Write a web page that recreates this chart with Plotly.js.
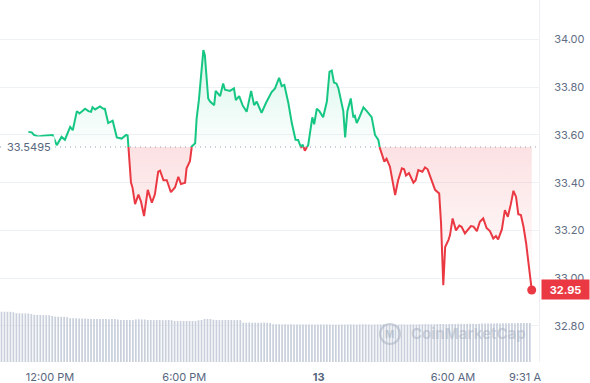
<!DOCTYPE html>
<html>
<head>
<meta charset="utf-8">
<script src="https://cdn.plot.ly/plotly-3.0.1.min.js"></script>
<style>
  html, body { margin: 0; padding: 0; background: #fff; }
  #chart { width: 590px; height: 383px; }
</style>
</head>
<body>
<div id="chart"></div>
<script>
// ---- data ----
const basePrice = 33.5495;
const lastPrice = 32.95;

const priceTime = [
  "2024-06-12 11:02","2024-06-12 11:11","2024-06-12 11:17","2024-06-12 11:28","2024-06-12 11:44",
  "2024-06-12 12:07","2024-06-12 12:18","2024-06-12 12:31","2024-06-12 12:40","2024-06-12 12:54",
  "2024-06-12 13:01","2024-06-12 13:12","2024-06-12 13:19","2024-06-12 13:34","2024-06-12 13:43",
  "2024-06-12 13:50","2024-06-12 13:54","2024-06-12 14:01","2024-06-12 14:14","2024-06-12 14:23",
  "2024-06-12 14:27","2024-06-12 14:36","2024-06-12 14:48","2024-06-12 14:59","2024-06-12 15:12",
  "2024-06-12 15:24","2024-06-12 15:28","2024-06-12 15:37","2024-06-12 15:41","2024-06-12 15:48",
  "2024-06-12 15:57","2024-06-12 16:04","2024-06-12 16:12","2024-06-12 16:22","2024-06-12 16:33",
  "2024-06-12 16:41","2024-06-12 16:50","2024-06-12 16:55","2024-06-12 17:04","2024-06-12 17:13",
  "2024-06-12 17:24","2024-06-12 17:35","2024-06-12 17:44","2024-06-12 17:51","2024-06-12 18:02",
  "2024-06-12 18:06","2024-06-12 18:15","2024-06-12 18:20","2024-06-12 18:29","2024-06-12 18:33",
  "2024-06-12 18:39","2024-06-12 18:51","2024-06-12 18:55","2024-06-12 19:04","2024-06-12 19:09",
  "2024-06-12 19:20","2024-06-12 19:24","2024-06-12 19:36","2024-06-12 19:44","2024-06-12 19:49",
  "2024-06-12 20:02","2024-06-12 20:13","2024-06-12 20:18","2024-06-12 20:27","2024-06-12 20:36",
  "2024-06-12 20:47","2024-06-12 20:59","2024-06-12 21:07","2024-06-12 21:14","2024-06-12 21:27",
  "2024-06-12 21:39","2024-06-12 21:54","2024-06-12 22:03","2024-06-12 22:14","2024-06-12 22:21",
  "2024-06-12 22:28","2024-06-12 22:39","2024-06-12 22:48","2024-06-12 22:58","2024-06-12 23:05",
  "2024-06-12 23:13","2024-06-12 23:17","2024-06-12 23:23","2024-06-12 23:32","2024-06-12 23:43",
  "2024-06-12 23:48","2024-06-12 23:55","2024-06-13 00:02","2024-06-13 00:12","2024-06-13 00:22",
  "2024-06-13 00:29","2024-06-13 00:35","2024-06-13 00:41","2024-06-13 00:48","2024-06-13 00:53",
  "2024-06-13 01:06","2024-06-13 01:11","2024-06-13 01:17","2024-06-13 01:26","2024-06-13 01:33",
  "2024-06-13 01:37","2024-06-13 01:42","2024-06-13 01:48","2024-06-13 02:00","2024-06-13 02:09",
  "2024-06-13 02:18","2024-06-13 02:22","2024-06-13 02:31","2024-06-13 02:40","2024-06-13 02:44",
  "2024-06-13 02:56","2024-06-13 03:02","2024-06-13 03:11","2024-06-13 03:20","2024-06-13 03:25",
  "2024-06-13 03:33","2024-06-13 03:43","2024-06-13 03:49","2024-06-13 03:54","2024-06-13 04:02",
  "2024-06-13 04:14","2024-06-13 04:20","2024-06-13 04:27","2024-06-13 04:38","2024-06-13 04:45",
  "2024-06-13 04:52","2024-06-13 05:03","2024-06-13 05:12","2024-06-13 05:23","2024-06-13 05:28",
  "2024-06-13 05:34","2024-06-13 05:39","2024-06-13 05:48","2024-06-13 05:52","2024-06-13 05:59",
  "2024-06-13 06:08","2024-06-13 06:17","2024-06-13 06:23","2024-06-13 06:32","2024-06-13 06:41",
  "2024-06-13 06:48","2024-06-13 06:55","2024-06-13 07:04","2024-06-13 07:12","2024-06-13 07:21",
  "2024-06-13 07:30","2024-06-13 07:39","2024-06-13 07:48","2024-06-13 07:55","2024-06-13 08:01",
  "2024-06-13 08:11","2024-06-13 08:19","2024-06-13 08:27","2024-06-13 08:35","2024-06-13 08:42",
  "2024-06-13 08:49","2024-06-13 08:55","2024-06-13 09:02","2024-06-13 09:09","2024-06-13 09:16",
  "2024-06-13 09:23","2024-06-13 09:31"
];

const priceValue = [
  33.613,33.611,33.600,33.594,33.597,
  33.600,33.557,33.592,33.580,33.634,
  33.620,33.700,33.690,33.710,33.700,
  33.697,33.716,33.707,33.720,33.710,
  33.710,33.650,33.660,33.590,33.585,
  33.600,33.598,33.400,33.380,33.310,
  33.350,33.320,33.260,33.370,33.316,
  33.350,33.446,33.450,33.410,33.410,
  33.360,33.380,33.425,33.394,33.400,
  33.460,33.490,33.552,33.565,33.670,
  33.746,33.956,33.935,33.753,33.740,
  33.725,33.785,33.763,33.816,33.790,
  33.785,33.795,33.746,33.763,33.725,
  33.697,33.785,33.725,33.740,33.693,
  33.735,33.780,33.795,33.840,33.805,
  33.810,33.732,33.650,33.580,33.579,
  33.546,33.560,33.534,33.558,33.674,
  33.645,33.710,33.700,33.674,33.740,
  33.865,33.870,33.820,33.815,33.795,
  33.700,33.590,33.700,33.753,33.674,
  33.680,33.650,33.670,33.716,33.700,
  33.680,33.675,33.600,33.579,33.545,
  33.488,33.500,33.467,33.400,33.348,
  33.410,33.460,33.456,33.430,33.440,
  33.400,33.410,33.453,33.446,33.464,
  33.456,33.410,33.370,33.355,33.230,
  32.970,33.130,33.160,33.180,33.250,
  33.200,33.220,33.215,33.187,33.204,
  33.218,33.216,33.197,33.236,33.250,
  33.210,33.197,33.166,33.176,33.162,
  33.204,33.285,33.257,33.310,33.366,
  33.340,33.268,33.264,33.215,33.146,
  33.047,32.950
];

// volume bars (relative units), one bar per 8 minutes from 09:50 on the 12th
const volumeStart = "2024-06-12 09:50";
const volumeStepMinutes = 8;
const volumeValue = [
  5.03,5.03,5.02,5.02,4.98,
  4.88,4.87,4.87,4.86,4.85,4.80,
  4.72,4.70,4.70,4.69,4.68,4.68,4.60,
  4.54,4.53,4.52,4.52,4.48,
  4.38,4.37,4.37,4.36,4.36,4.34,4.32,
  4.30,4.31,4.30,4.29,4.30,4.30,4.28,4.30,4.29,4.25,
  4.20,4.20,4.21,4.20,4.19,4.26,4.27,4.26,4.25,4.20,
  4.20,4.19,4.20,4.20,4.18,4.19,4.20,4.18,4.10,
  4.10,4.09,4.10,4.11,4.10,4.10,4.09,4.18,
  4.20,4.30,4.31,4.30,4.22,
  4.20,4.19,4.20,4.20,4.21,4.20,4.19,4.20,4.18,
  3.94,3.93,3.94,3.93,3.93,3.92,3.93,3.94,3.93,3.90,
  3.78,3.77,3.77,3.76,3.77,3.76,3.77,3.76,3.75,
  3.76,3.75,3.76,3.75,3.74,3.75,3.76,3.75,3.74,3.75,
  3.75,3.74,3.73,3.74,3.75,3.74,3.75,3.76,3.75,3.74,
  3.76,3.77,3.76,3.75,3.74,3.75,3.76,3.77,3.78,3.77,
  3.76,3.75,3.74,3.75,3.76,3.75,3.74,3.75,3.76,3.75,
  3.77,3.78,3.79,3.78,3.77,3.78,3.79,3.80,3.79,3.78,
  3.80,3.81,3.80,3.82,3.81,3.80,3.82,3.83,3.82,3.81,
  3.83,3.84,3.85,3.84,3.86,3.85,3.87,3.86,3.88,3.87,
  3.88,3.89,3.88,3.90,3.89,3.90,3.91,3.90
];

const yTickValues = [32.8, 33.0, 33.2, 33.4, 33.6, 33.8, 34.0];
const yTickLabels = ["32.80", "33.00", "33.20", "33.40", "33.60", "33.80", "34.00"];
const xTickValues = ["2024-06-12 12:00", "2024-06-12 18:00", "2024-06-13 00:00", "2024-06-13 06:00", "2024-06-13 09:13"];
const xTickLabels = ["12:00 PM", "6:00 PM", "<b>13</b>", "6:00 AM", "9:31 A"];

// ---- build ----
const GREEN = "#16c784";
const RED = "#ea3943";
const toMs = s => Date.parse(s.replace(" ", "T") + ":00Z");

const t = priceTime.map(toMs);
const aug = [];
for (let i = 0; i < t.length; i++) {
  aug.push([t[i], priceValue[i]]);
  if (i < t.length - 1) {
    const a = priceValue[i] - basePrice, b = priceValue[i + 1] - basePrice;
    if (a * b < 0) {
      const f = a / (a - b);
      aug.push([t[i] + f * (t[i + 1] - t[i]), basePrice]);
    }
  }
}
const ax = aug.map(p => p[0]);
const ay = aug.map(p => p[1]);
const greenY = ay.map(v => v >= basePrice ? v : null);
const redY = ay.map(v => v <= basePrice ? v : null);
const upFill = ay.map(v => Math.max(v, basePrice));
const downFill = ay.map(v => Math.min(v, basePrice));
const baseY = ay.map(() => basePrice);

const v0 = toMs(volumeStart);
const volTime = volumeValue.map((_, i) => v0 + i * volumeStepMinutes * 60000);

const traces = [
  { type: "bar", x: volTime, y: volumeValue, yaxis: "y2",
    marker: { color: "#c9d0dc", line: { width: 0 } }, hoverinfo: "skip" },
  { type: "scatter", mode: "lines", x: ax, y: baseY, line: { width: 0 }, hoverinfo: "skip" },
  { type: "scatter", mode: "lines", x: ax, y: upFill, line: { width: 0 }, fill: "tonexty",
    fillgradient: { type: "vertical", start: basePrice, stop: 34.0,
      colorscale: [[0, "rgba(22,199,132,0.01)"], [1, "rgba(22,199,132,0.19)"]] }, hoverinfo: "skip" },
  { type: "scatter", mode: "lines", x: ax, y: baseY, line: { width: 0 }, hoverinfo: "skip" },
  { type: "scatter", mode: "lines", x: ax, y: downFill, line: { width: 0 }, fill: "tonexty",
    fillgradient: { type: "vertical", start: 32.95, stop: basePrice,
      colorscale: [[0, "rgba(234,57,67,0)"], [1, "rgba(234,57,67,0.15)"]] }, hoverinfo: "skip" },
  { type: "scatter", mode: "lines", x: ax, y: greenY, connectgaps: false,
    line: { color: GREEN, width: 2 }, hoverinfo: "skip" },
  { type: "scatter", mode: "lines", x: ax, y: redY, connectgaps: false,
    line: { color: RED, width: 2 }, hoverinfo: "skip" },
  { type: "scatter", mode: "markers", x: [t[t.length - 1]], y: [lastPrice],
    marker: { color: RED, size: 9 }, hoverinfo: "skip" }
];

const FONT = "Inter, 'Noto Sans', sans-serif";
const layout = {
  width: 590, height: 383,
  margin: { l: 0, r: 51, t: 0, b: 21, pad: 0 },
  paper_bgcolor: "#ffffff", plot_bgcolor: "#ffffff",
  showlegend: false, hovermode: false, bargap: 0.42,
  font: { family: FONT, size: 11, color: "#58667e" },
  xaxis: {
    type: "date", range: ["2024-06-12 09:46", "2024-06-13 09:50:30"],
    showgrid: false, zeroline: false, showline: false,
    tickmode: "array", tickvals: xTickValues, ticktext: xTickLabels,
    ticks: "outside", ticklen: 5, tickcolor: "rgba(0,0,0,0)",
    tickfont: { family: FONT, size: 11, color: "#58667e" }
  },
  yaxis: {
    side: "right", range: [32.648, 34.166],
    tickmode: "array", tickvals: yTickValues, ticktext: yTickLabels,
    showgrid: true, gridcolor: "#eff2f5", gridwidth: 1, zeroline: false,
    showline: true, linecolor: "#eceff3", linewidth: 1,
    ticks: "outside", ticklen: 12, tickcolor: "rgba(0,0,0,0)",
    tickfont: { family: FONT, size: 11, color: "#616e85" }
  },
  yaxis2: { overlaying: "y", range: [0, 36.2], visible: false, fixedrange: true },
  shapes: [
    { type: "line", xref: "paper", x0: 0, x1: 1, yref: "y", y0: basePrice, y1: basePrice,
      line: { color: "#9aa3b3", width: 1.2, dash: "1px,4px" } },
    { type: "circle", xref: "paper", yref: "paper", x0: 0.705, x1: 0.742, y0: 0.050, y1: 0.105,
      line: { color: "rgba(165,175,192,0.55)", width: 2 } }
  ],
  annotations: [
    { xref: "paper", x: 0, xanchor: "left", xshift: 3, yref: "y", y: basePrice, yanchor: "middle",
      text: basePrice.toString(), showarrow: false, bgcolor: "#ffffff", borderpad: 3,
      font: { family: FONT, size: 11, color: "#58667e" } },
    { xref: "paper", x: 1, xanchor: "left", xshift: 2, yref: "y", y: lastPrice, yanchor: "middle",
      text: "<b>" + lastPrice.toFixed(2) + "</b>", showarrow: false, bgcolor: RED,
      width: 45, height: 17, borderpad: 1, align: "center",
      font: { family: FONT, size: 11, color: "#ffffff" } },
    { xref: "paper", x: 0.7235, xanchor: "center", yref: "paper", y: 0.0775, yanchor: "middle",
      text: "<b>M</b>", showarrow: false,
      font: { family: FONT, size: 10, color: "rgba(165,175,192,0.6)" } },
    { xref: "paper", x: 0.758, xanchor: "left", yref: "paper", y: 0.0775, yanchor: "middle",
      text: "<b>CoinMarketCap</b>", showarrow: false,
      font: { family: FONT, size: 15, color: "rgba(165,175,192,0.5)" } }
  ]
};

Plotly.newPlot("chart", traces, layout, { displayModeBar: false, staticPlot: true });
</script>
</body>
</html>
